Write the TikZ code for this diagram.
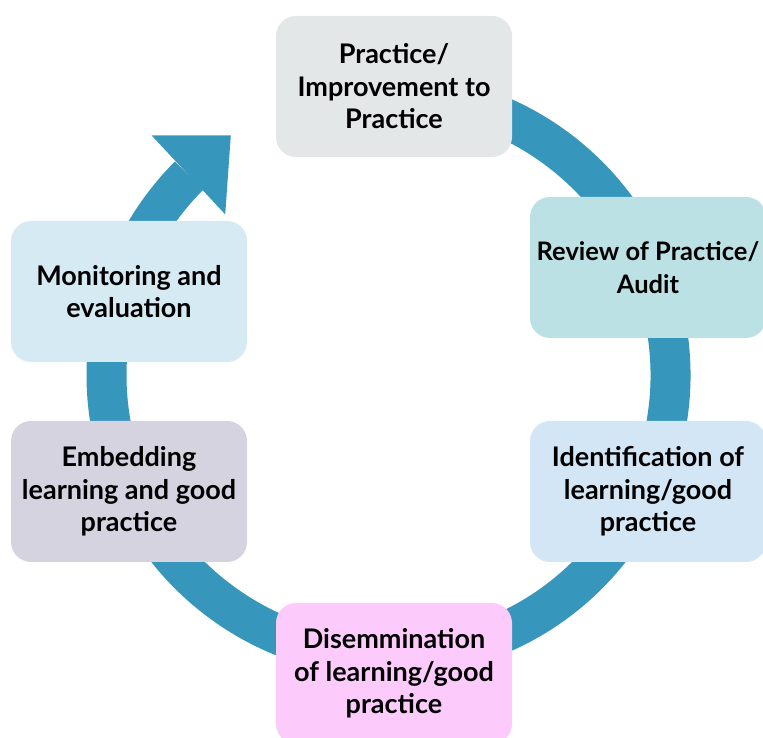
\documentclass[tikz,border=0pt]{standalone}
\usepackage{fontspec}
\setmainfont{Lato}
\usetikzlibrary{calc}
\definecolor{ringblue}{HTML}{3796BC}
\definecolor{cTop}{HTML}{E3E7E7}
\definecolor{cRev}{HTML}{BBE1E5}
\definecolor{cIdent}{HTML}{D3E6F5}
\definecolor{cDis}{HTML}{FCCBFC}
\definecolor{cEmb}{HTML}{D5D3E0}
\definecolor{cMon}{HTML}{D5EAF3}
\tikzset{
  stagebox/.style={rectangle, rounded corners=20pt, minimum width=236pt, minimum height=141pt,
    align=center, inner sep=0pt,
    font=\fontsize{27}{32.5}\selectfont\bfseries, text=black},
  ringarc/.style={draw=ringblue, line width=40pt, line cap=butt}
}
\begin{document}
\begin{tikzpicture}[x=1pt,y=1pt]
\useasboundingbox (0,0) rectangle (763,738);
\coordinate (C) at (388.5,363);
% ring
\draw[ringarc] ($(C)+(100:282)$) arc[start angle=100, end angle=-225, radius=282];
\coordinate (M) at ($(C)+(135:283)$);
\fill[ringblue] ($(M)+(133:54)$) -- ($(M)+(43:58)$) -- ($(M)+(-47:54)$) -- cycle;
% boxes
\node[stagebox, fill=cTop] (top) at (394,651.5) {Practice/\\Improvement to\\Practice};
\node[stagebox, fill=cRev, font=\fontsize{25.5}{32.5}\selectfont\bfseries] (rev) at (648,470.5) {Review of Practice/\\Audit};
\node[stagebox, fill=cIdent] (ident) at (648,246.5) {Identification of\\learning/good\\practice};
\node[stagebox, fill=cDis] (dis) at (394,64.5) {Disemmination\\of learning/good\\practice};
\node[stagebox, fill=cEmb] (emb) at (129,246.5) {Embedding\\learning and good\\practice};
\node[stagebox, fill=cMon] (mon) at (129,446.5) {Monitoring and\\evaluation};
\end{tikzpicture}
\end{document}
